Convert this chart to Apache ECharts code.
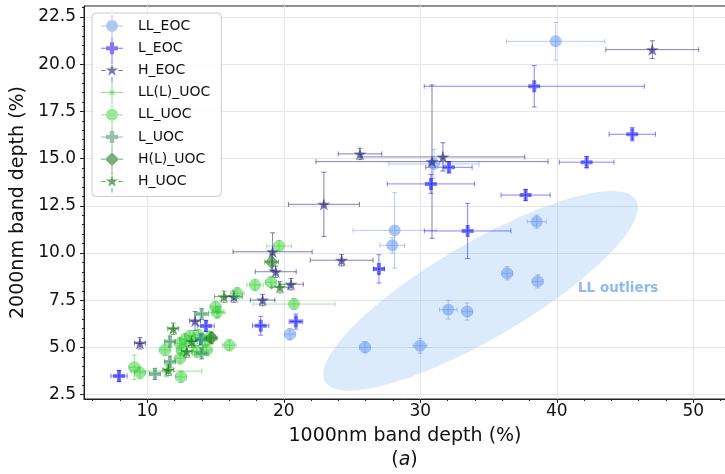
<!DOCTYPE html>
<html><head><meta charset="utf-8">
<script src="https://cdn.jsdelivr.net/npm/echarts@6/dist/echarts.min.js"></script>
<style>html,body{margin:0;padding:0;background:#fff}#c{width:725px;height:474px}</style>
</head><body><div id="c"></div>
<script>
// ---------------- data: [x (1000nm %), y (2000nm %), xerr, yerr] ----------------
const seriesNames = ['LL_EOC','L_EOC','H_EOC','LL(L)_UOC','LL_UOC','L_UOC','H(L)_UOC','H_UOC'];
const llEoc = [
  [39.92,21.21,3.6,1.0],[31.0,14.72,3.3,0.77],[38.53,11.66,0.7,0.35],[28.12,11.2,3.05,2.0],
  [27.95,10.41,0.9,0.4],[36.37,8.93,0.4,0.35],[38.6,8.5,0.4,0.35],[32.05,7.0,0.64,0.5],
  [33.44,6.9,0.4,0.45],[25.95,5.01,0.4,0.3],[29.98,5.09,0.5,0.4],[20.45,5.7,0.4,0.3]
];
const lEoc = [
  [38.35,18.83,8.06,1.1],[45.53,16.29,1.7,0.35],[32.1,14.54,1.7,0.3],[42.19,14.81,2.0,0.3],
  [30.78,13.66,3.2,0.5],[37.72,13.07,1.8,0.3],[33.47,11.17,3.17,1.46],[26.97,9.16,0.4,0.75],
  [20.89,6.37,0.5,0.4],[18.31,6.15,0.6,0.5],[14.3,6.14,0.6,0.3],[13.93,5.43,0.4,0.3],[7.93,3.49,0.6,0.3]
];
const hEoc = [
  [47.0,20.77,3.4,0.47],[25.58,15.25,1.6,0.3],[30.86,14.84,8.5,4.06],[31.66,15.09,6.0,0.75],
  [22.94,12.58,2.6,1.7],[24.24,9.62,2.3,0.3],[19.18,10.07,2.9,1.0],[19.41,9.01,1.5,0.3],
  [20.53,8.35,0.9,0.3],[18.45,7.51,0.9,0.3],[16.35,7.69,0.6,0.3],[13.5,6.4,0.4,0.5],[9.46,5.22,0.4,0.3]
];
const llLUoc = [
  [11.4,3.75,2.6,0.3],[13.4,5.1,0.4,0.3],[15.2,6.9,0.4,0.3]
];
const llUoc = [
  [19.65,10.37,0.9,0.3],[19.06,8.45,0.4,0.3],[17.89,8.31,0.6,0.3],[16.59,7.87,0.5,0.3],
  [15.0,7.15,0.4,0.3],[15.1,6.85,0.6,0.3],[20.75,7.3,3.0,0.3],[16.01,5.12,0.5,0.3],
  [14.35,4.87,0.4,0.3],[14.23,5.31,0.4,0.3],[13.74,5.66,0.4,0.3],[13.13,5.61,0.4,0.3],
  [12.76,5.43,0.4,0.3],[12.4,5.22,0.4,0.3],[12.52,4.87,0.4,0.3],[11.3,4.87,0.4,0.3],
  [12.4,4.43,0.4,0.3],[12.47,3.45,0.4,0.3],[9.05,3.95,0.4,0.65],[9.46,3.66,0.4,0.3],
  [13.62,4.78,0.4,0.3],[14.59,5.57,0.4,0.3]
];
const lUoc = [
  [13.98,6.77,0.5,0.3],[11.66,5.31,0.4,0.3],[11.66,4.25,0.4,0.3],[10.56,3.6,0.4,0.3],[13.98,4.69,0.5,0.3]
];
const hLUoc = [
  [19.11,9.53,0.5,0.4],[14.7,5.5,0.4,0.3]
];
const hUoc = [
  [19.72,8.19,0.6,0.3],[15.62,7.69,0.7,0.3],[11.9,5.99,0.4,0.3],[13.25,5.31,0.4,0.3],
  [12.89,4.78,0.4,0.3],[11.54,3.81,0.4,0.3]
];
// ellipse annotation: major-axis end points (data units) and minor/major ratio
const ellipseMajorAxis = [23.03, 3.19, 45.81, 12.81];
const ellipseRatio = 0.266;
const ellipseLabel = 'LL outliers';
const ellipseLabelAt = [44.5, 8.1];

// ticks
const xTicks = [10,20,30,40,50];
const xMinorTicks = [6,8,12,14,16,18,22,24,26,28,32,34,36,38,42,44,46,48,52];
const yTicks = [2.5,5,7.5,10,12.5,15,17.5,20,22.5];
const yMinorTicks = [3,3.5,4,4.5,5.5,6,6.5,7,8,8.5,9,9.5,10.5,11,11.5,12,13,13.5,14,14.5,15.5,16,16.5,17,18,18.5,19,19.5,20.5,21,21.5,22,23];
const xRange = [5.363, 52.4];
const yRange = [2.272, 23.08];

// ---------------- styling ----------------
const FONT = 'DejaVu Sans';
const rgb = {
  'LL_EOC': [100,149,237], 'L_EOC': [0,0,255], 'H_EOC': [20,20,120], 'LL(L)_UOC': [50,205,50],
  'LL_UOC': [50,205,50], 'L_UOC': [46,139,87], 'H(L)_UOC': [20,110,20], 'H_UOC': [10,110,10]
};
const alpha = {
  'LL_EOC': 0.65, 'L_EOC': 0.65, 'H_EOC': 0.72, 'LL(L)_UOC': 0.7,
  'LL_UOC': 0.62, 'L_UOC': 0.65, 'H(L)_UOC': 0.7, 'H_UOC': 0.75
};
const colorOf = (n, k) => 'rgba(' + rgb[n].join(',') + ',' + (alpha[n] * (k || 1)).toFixed(3) + ')';

function starPath(R, r) {
  let d = '';
  for (let i = 0; i < 10; i++) {
    const rad = (i % 2) ? r : R;
    const a = -Math.PI / 2 + i * Math.PI / 5;
    d += (i ? 'L' : 'M') + (rad * Math.cos(a)).toFixed(3) + ',' + (rad * Math.sin(a)).toFixed(3);
  }
  return d + 'Z';
}
function plusPath(s) {
  const p = [[-1,-3],[1,-3],[1,-1],[3,-1],[3,1],[1,1],[1,3],[-1,3],[-1,1],[-3,1],[-3,-1],[-1,-1]];
  return p.map((q, i) => (i ? 'L' : 'M') + (q[0] * s / 3).toFixed(3) + ',' + (q[1] * s / 3).toFixed(3)).join('') + 'Z';
}
function circlePath(r) {
  return 'M' + (-r) + ',0A' + r + ',' + r + ' 0 1 1 ' + r + ',0A' + r + ',' + r + ' 0 1 1 ' + (-r) + ',0Z';
}
function diamondPath(r) { return 'M0,' + (-r) + 'L' + r + ',0L0,' + r + 'L' + (-r) + ',0Z'; }
function bars(inner) {
  const o = 11, t = 0.5;
  return 'M' + (-o) + ',' + (-t) + 'L' + (-inner) + ',' + (-t) + 'L' + (-inner) + ',' + t + 'L' + (-o) + ',' + t + 'Z' +
         'M' + inner + ',' + (-t) + 'L' + o + ',' + (-t) + 'L' + o + ',' + t + 'L' + inner + ',' + t + 'Z' +
         'M' + (-t) + ',' + (-o) + 'L' + t + ',' + (-o) + 'L' + t + ',' + (-inner) + 'L' + (-t) + ',' + (-inner) + 'Z' +
         'M' + (-t) + ',' + inner + 'L' + t + ',' + inner + 'L' + t + ',' + o + 'L' + (-t) + ',' + o + 'Z';
}
const markers = {
  'LL_EOC': {sym: 'circle', size: 12, icon: circlePath(6) + bars(6)},
  'L_EOC': {sym: 'path://' + plusPath(1), size: 12, icon: plusPath(6) + bars(6)},
  'H_EOC': {sym: 'path://' + starPath(1, 0.382), size: 13, icon: starPath(6.5, 2.48) + bars(6.5)},
  'LL(L)_UOC': {sym: 'circle', size: 5, icon: circlePath(2.5) + bars(2.5)},
  'LL_UOC': {sym: 'circle', size: 12, icon: circlePath(6) + bars(6)},
  'L_UOC': {sym: 'path://' + plusPath(1), size: 12, icon: plusPath(6) + bars(6)},
  'H(L)_UOC': {sym: 'diamond', size: 14, icon: diamondPath(7) + bars(7)},
  'H_UOC': {sym: 'path://' + starPath(1, 0.382), size: 13, icon: starPath(6.5, 2.48) + bars(6.5)}
};
const groups = {
  'LL_EOC': llEoc, 'L_EOC': lEoc, 'H_EOC': hEoc, 'LL(L)_UOC': llLUoc,
  'LL_UOC': llUoc, 'L_UOC': lUoc, 'H(L)_UOC': hLUoc, 'H_UOC': hUoc
};

function errSeries(name) {
  const color = colorOf(name, 0.75);
  return {
    type: 'custom', name: name + ' err', data: groups[name], clip: true, silent: true,
    encode: {x: 0, y: 1},
    renderItem: function (params, api) {
      const x = api.value(0), y = api.value(1), xe = api.value(2), ye = api.value(3);
      const l = api.coord([x - xe, y]), r = api.coord([x + xe, y]);
      const t = api.coord([x, y + ye]), b = api.coord([x, y - ye]);
      const c = 2.5;
      const st = {stroke: color, lineWidth: 1, fill: null};
      const ln = (x1, y1, x2, y2) => ({type: 'line', shape: {x1, y1, x2, y2}, style: st});
      return {type: 'group', children: [
        ln(l[0], l[1], r[0], r[1]), ln(t[0], t[1], b[0], b[1]),
        ln(l[0], l[1] - c, l[0], l[1] + c), ln(r[0], r[1] - c, r[0], r[1] + c),
        ln(t[0] - c, t[1], t[0] + c, t[1]), ln(b[0] - c, b[1], b[0] + c, b[1])
      ]};
    }
  };
}
function scatterSeries(name) {
  const m = markers[name];
  return {
    type: 'scatter', name: name, data: groups[name].map(d => [d[0], d[1]]),
    symbol: m.sym, symbolSize: m.size, symbolKeepAspect: true,
    itemStyle: {color: colorOf(name), borderWidth: 0},
    emphasis: {disabled: true}
  };
}

const series = [{
  type: 'custom', name: 'ellipse', silent: true, clip: true,
  data: [ellipseMajorAxis], encode: {x: [0, 2], y: [1, 3]},
  renderItem: function (params, api) {
    const p1 = api.coord([api.value(0), api.value(1)]);
    const p2 = api.coord([api.value(2), api.value(3)]);
    const cx = (p1[0] + p2[0]) / 2, cy = (p1[1] + p2[1]) / 2;
    const dx = p2[0] - p1[0], dy = p2[1] - p1[1];
    const a = Math.sqrt(dx * dx + dy * dy) / 2, b = a * ellipseRatio;
    const ang = Math.atan2(dy, dx);
    const pts = [];
    for (let i = 0; i < 120; i++) {
      const t = i / 120 * Math.PI * 2;
      const ex = a * Math.cos(t), ey = b * Math.sin(t);
      pts.push([cx + ex * Math.cos(ang) - ey * Math.sin(ang), cy + ex * Math.sin(ang) + ey * Math.cos(ang)]);
    }
    const lp = api.coord(ellipseLabelAt);
    return {type: 'group', children: [
      {type: 'polygon', shape: {points: pts}, style: {fill: 'rgba(135,190,245,0.3)'}},
      {type: 'text', x: lp[0], y: lp[1], style: {text: ellipseLabel, fill: '#8db9f5', font: 'bold 13.5px "DejaVu Sans"', align: 'center', verticalAlign: 'middle'}}
    ]};
  }
}];
seriesNames.forEach(n => { series.push(errSeries(n)); series.push(scatterSeries(n)); });

const axisColor = '#222';
const option = {
  animation: false,
  backgroundColor: '#fff',
  textStyle: {fontFamily: FONT},
  grid: {left: 84, right: -1, top: 6, bottom: 75, show: true, borderColor: axisColor, borderWidth: 1, containLabel: false, outerBoundsMode: 'none'},
  xAxis: [{
    type: 'value', min: xRange[0], max: xRange[1],
    axisLine: {show: true, onZero: false, lineStyle: {color: axisColor}},
    axisTick: {show: true, customValues: xTicks, length: 4, lineStyle: {color: axisColor}},
    axisLabel: {customValues: xTicks, fontSize: 17, color: '#111', margin: 4, fontFamily: FONT},
    splitLine: {show: true, lineStyle: {color: '#e6e6e6', width: 1}},
    name: '1000nm band depth (%)', nameLocation: 'middle', nameGap: 28,
    nameTextStyle: {fontSize: 19, color: '#111', fontFamily: FONT}
  }, {
    type: 'value', min: xRange[0], max: xRange[1], position: 'bottom',
    axisLine: {show: false}, axisLabel: {show: false}, splitLine: {show: false},
    axisTick: {show: true, customValues: xMinorTicks, length: 2, lineStyle: {color: axisColor}}
  }],
  yAxis: [{
    type: 'value', min: yRange[0], max: yRange[1],
    axisLine: {show: true, onZero: false, lineStyle: {color: axisColor}},
    axisTick: {show: true, customValues: yTicks, length: 4, lineStyle: {color: axisColor}},
    axisLabel: {customValues: yTicks, fontSize: 17, color: '#111', margin: 8, fontFamily: FONT, formatter: v => v.toFixed(1)},
    splitLine: {show: true, lineStyle: {color: '#e6e6e6', width: 1}},
    name: '2000nm band depth (%)', nameLocation: 'middle', nameGap: 56, nameRotate: 90,
    nameTextStyle: {fontSize: 19, color: '#111', fontFamily: FONT}
  }, {
    type: 'value', min: yRange[0], max: yRange[1], position: 'left',
    axisLine: {show: false}, axisLabel: {show: false}, splitLine: {show: false},
    axisTick: {show: true, customValues: yMinorTicks, length: 2, lineStyle: {color: axisColor}}
  }],
  legend: {
    orient: 'vertical', left: 92, top: 13,
    padding: [2, 11, 4, 9], itemGap: 0.2, itemWidth: 22, itemHeight: 22,
    backgroundColor: 'rgba(255,255,255,0.85)', borderColor: '#cccccc', borderWidth: 1, borderRadius: 4,
    textStyle: {fontSize: 14, color: '#111', fontFamily: FONT, padding: [0, 0, 0, 10]},
    selectedMode: false,
    data: seriesNames.map(n => ({name: n, icon: 'path://' + markers[n].icon, itemStyle: {color: colorOf(n), borderWidth: 0}}))
  },
  graphic: [{
    type: 'text', x: 404.5, y: 460,
    style: {text: '({i|a})', font: '19px "DejaVu Sans"', fill: '#111', align: 'center', verticalAlign: 'middle',
      rich: {i: {fontStyle: 'italic', fontSize: 19, fontFamily: FONT, fill: '#111'}}}
  }],
  series: series
};
const chart = echarts.init(document.getElementById('c'), null, {renderer: 'canvas'});
chart.setOption(option);
</script>
</body></html>
